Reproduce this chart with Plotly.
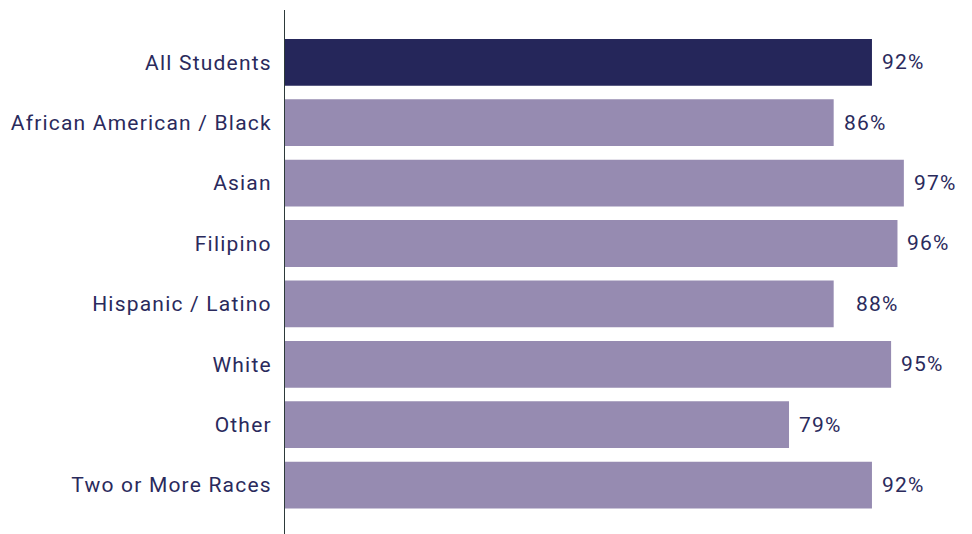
import plotly.graph_objects as go

categories = ["All Students", "African American / Black", "Asian", "Filipino",
              "Hispanic / Latino", "White", "Other", "Two or More Races"]
# bar lengths as drawn in the reference (the Hispanic / Latino bar is drawn at 86)
bar_values = [92, 86, 97, 96, 86, 95, 79, 92]
# printed labels (and their positions)
label_values = [92, 86, 97, 96, 88, 95, 79, 92]

DARK = "#25265a"
LIGHT = "#968bb1"
TEXT = "#2a2a5c"
SPACING = "letter-spacing:1.2px"
colors = [DARK] + [LIGHT] * (len(categories) - 1)

fig = go.Figure(go.Bar(
    x=bar_values, y=categories, orientation="h",
    marker=dict(color=colors, line=dict(width=0)),
    width=0.775, hoverinfo="skip",
))

for c, v in zip(categories, label_values):
    fig.add_annotation(x=v, y=c, text=f'<span style="{SPACING}">{v}%</span>',
                       showarrow=False, xanchor="left",
                       yanchor="middle", xshift=8,
                       font=dict(family="Roboto", size=21, color=TEXT))

fig.update_layout(
    width=972, height=534,
    margin=dict(l=277, r=57, t=2, b=8, autoexpand=False),
    plot_bgcolor="white", paper_bgcolor="white",
    showlegend=False,
    font=dict(family="Roboto", size=21, color=TEXT),
    xaxis=dict(range=[0, 100], visible=False, showgrid=False, zeroline=False,
               automargin=False),
    yaxis=dict(range=[7.810, -0.866], showgrid=False, zeroline=False,
               automargin=False,
               showline=True, linecolor="#2d3a3a", linewidth=1,
               ticks="", ticklabelstandoff=8,
               tickmode="array", tickvals=categories,
               ticktext=[f'<span style="{SPACING}">{c}</span>' for c in categories],
               tickfont=dict(family="Roboto", size=21, color=TEXT)),
)

fig.write_html("out.html")
